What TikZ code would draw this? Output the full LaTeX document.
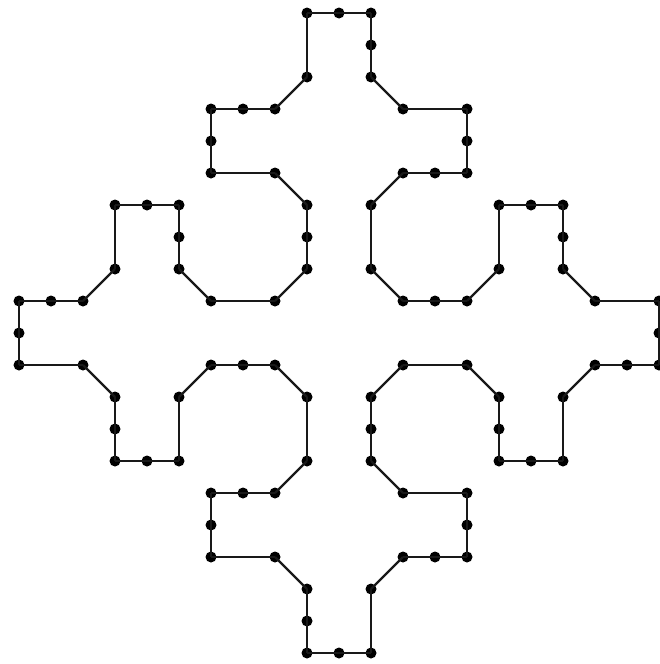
\documentclass[tikz,border=0pt]{standalone}
\begin{document}
\begin{tikzpicture}[x=32pt,y=-32pt,
  dot/.style={circle,fill=black,draw=none,inner sep=0pt,minimum size=11pt},
  edge/.style={draw=black!90,line width=2.4pt}]
\useasboundingbox (-0.59375,-0.40625) rectangle (20,20.34375);
\foreach \x/\y [count=\n] in {9/0,10/0,11/0,11/1,11/2,12/3,14/3,14/4,14/5,13/5,12/5,11/6,11/8,12/9,13/9,14/9,15/8,15/6,16/6,17/6,17/7,17/8,18/9,20/9,20/10,20/11,19/11,18/11,17/12,17/14,16/14,15/14,15/13,15/12,14/11,12/11,11/12,11/13,11/14,12/15,14/15,14/16,14/17,13/17,12/17,11/18,11/20,10/20,9/20,9/19,9/18,8/17,6/17,6/16,6/15,7/15,8/15,9/14,9/12,8/11,7/11,6/11,5/12,5/14,4/14,3/14,3/13,3/12,2/11,0/11,0/10,0/9,1/9,2/9,3/8,3/6,4/6,5/6,5/7,5/8,6/9,8/9,9/8,9/7,9/6,8/5,6/5,6/4,6/3,7/3,8/3,9/2}
  \node[dot] (p\n) at (\x,\y) {};
\foreach \a [remember=\a as \b (initially 92)] in {1,...,92}
  \draw[edge] (p\b.center) -- (p\a.center);
\end{tikzpicture}
\end{document}
